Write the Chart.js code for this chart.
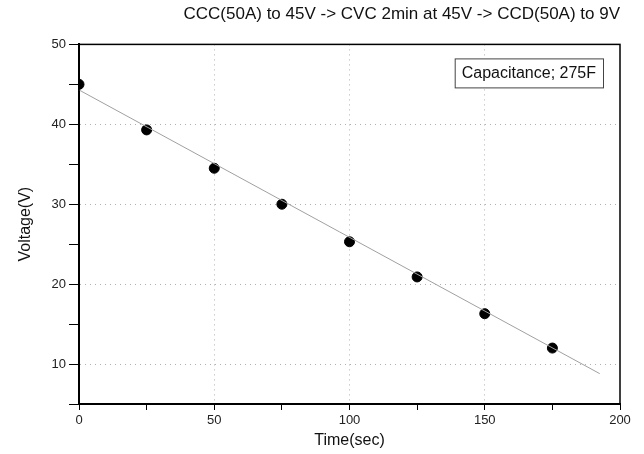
<!DOCTYPE html>
<html>
<head>
<meta charset="utf-8">
<script src="https://cdn.jsdelivr.net/npm/chart.js@4"></script>
<style>
  html, body { margin: 0; padding: 0; background: #fff; }
  canvas { display: block; }
</style>
</head>
<body>
<canvas id="myChart" width="644" height="454"></canvas>
<script>
// measured discharge points (time in sec, voltage in V)
const timeSec = [0, 25, 50, 75, 100, 125, 150, 175];
const voltage = [45, 39.3, 34.5, 30, 25.3, 20.9, 16.3, 12.0];

// linear fit drawn through the points
const fitTime = [0, 192.5];
const fitVolt = [44.3, 8.8];

const titleText = "CCC(50A) to 45V -> CVC 2min at 45V -> CCD(50A) to 9V";
const noteText = "Capacitance; 275F";

const fontFamily = "'Liberation Sans', Arial, sans-serif";

// draws frame around plot area and the capacitance note
const framePlugin = {
    id: "frame",
    afterDraw(chart) {
        const { ctx, chartArea: a } = chart;
        ctx.save();
        ctx.strokeStyle = "#000";
        ctx.lineWidth = 1.5;
        ctx.strokeRect(a.left, a.top, a.right - a.left, a.bottom - a.top);

        ctx.font = "16px " + fontFamily;
        const w = ctx.measureText(noteText).width;
        const bx = a.right - 17 - (w + 14), by = a.top + 14, bh = 29;
        ctx.fillStyle = "#fff";
        ctx.fillRect(bx, by, w + 14, bh);
        ctx.strokeStyle = "#444";
        ctx.lineWidth = 1;
        ctx.strokeRect(bx + 0.5, by + 0.5, w + 14, bh);
        ctx.fillStyle = "#111";
        ctx.textBaseline = "middle";
        ctx.fillText(noteText, bx + 7, by + bh / 2 + 1);
        ctx.restore();
    }
};

const ctx = document.getElementById("myChart").getContext("2d");

const myChart = new Chart(ctx, {
    type: "scatter",
    data: {
        datasets: [
            {
                label: "fit",
                type: "line",
                data: fitTime.map((t, i) => ({ x: t, y: fitVolt[i] })),
                borderColor: "#a0a0a0",
                borderWidth: 1,
                pointRadius: 0,
                fill: false
            },
            {
                label: "data",
                data: timeSec.map((t, i) => ({ x: t, y: voltage[i] })),
                backgroundColor: "#000",
                borderColor: "#000",
                pointRadius: 5
            }
        ]
    },
    plugins: [framePlugin],
    options: {
        responsive: false,
        animation: false,
        layout: { padding: { left: 14, right: 24, top: 0, bottom: 0 } },
        scales: {
            x: {
                type: "linear",
                min: 0,
                max: 200,
                afterFit: s => { s.height = 50; },
                ticks: {
                    stepSize: 25,
                    autoSkip: false,
                    maxRotation: 0,
                    padding: 3,
                    color: "#222",
                    font: { size: 13, family: fontFamily },
                    callback: v => (v % 50 === 0 ? v : "")
                },
                grid: {
                    tickLength: 6,
                    tickColor: "#000",
                    color: c => (c.tick && c.tick.value % 50 === 0 && c.tick.value > 0 && c.tick.value < 200) ? "#b0b0b0" : "rgba(0,0,0,0)",
                    lineWidth: 1
                },
                border: { display: true, color: "#000", width: 2, dash: [1, 4] },
                title: {
                    display: true,
                    text: "Time(sec)",
                    color: "#111",
                    padding: { top: 0, bottom: 4 },
                    font: { size: 16, family: fontFamily }
                }
            },
            y: {
                min: 5,
                max: 50,
                afterFit: s => { s.width = 65; },
                ticks: {
                    stepSize: 5,
                    autoSkip: false,
                    padding: 3,
                    color: "#222",
                    font: { size: 13, family: fontFamily },
                    callback: v => (v % 10 === 0 ? v : "")
                },
                grid: {
                    tickLength: 10,
                    tickColor: "#000",
                    color: c => (c.tick && c.tick.value % 10 === 0 && c.tick.value < 50) ? "#b0b0b0" : "rgba(0,0,0,0)",
                    lineWidth: 1
                },
                border: { display: true, color: "#000", width: 2, dash: [1, 4] },
                title: {
                    display: true,
                    text: "Voltage(V)",
                    color: "#111",
                    padding: { top: 2, bottom: 0 },
                    font: { size: 16, family: fontFamily }
                }
            }
        },
        plugins: {
            legend: { display: false },
            tooltip: { enabled: false },
            title: {
                display: true,
                text: titleText,
                align: "end",
                color: "#111",
                padding: { top: 4, bottom: 20 },
                font: { size: 17, weight: "normal", family: fontFamily }
            }
        }
    }
});
</script>
</body>
</html>
